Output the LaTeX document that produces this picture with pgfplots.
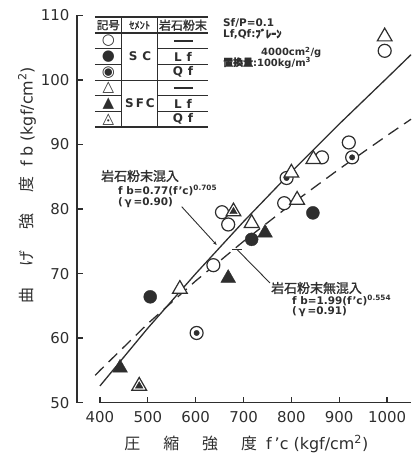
\documentclass[border=0pt]{standalone}
\usepackage{fontspec}
\setmainfont{DejaVu Sans}
\newfontfamily\cjk{Noto Sans CJK JP}
\newfontfamily\cjkb[FakeBold=1.5]{Noto Sans CJK JP}
\usepackage{pgfplots}
\pgfplotsset{compat=1.18}
\usetikzlibrary{arrows.meta}
\definecolor{ink}{gray}{0.18}
\begin{document}
\begin{tikzpicture}
\begin{axis}[
  at={(0,0)}, anchor=south west,
  scale only axis, width=334bp, height=387.4bp,
  xmin=352, xmax=1050, ymin=50, ymax=110,
  axis x line*=bottom, axis y line*=left,
  axis line style={draw=none},
  xtick={400,500,...,1000}, ytick={50,60,...,110},
  tick align=inside, major tick length=6bp,
  tick style={line width=1.3bp, ink},
  /pgf/number format/assume math mode=true,
  /pgf/number format/1000 sep={},
  ticklabel style={font=\fontsize{15}{18}\selectfont, text=ink},
  xticklabel style={yshift=-5bp},
  yticklabel style={xshift=-4bp},
  xlabel={{\cjk 圧\hspace{23bp}縮\hspace{23bp}強\hspace{23bp}度}\hspace{9bp}f\hspace{3bp}'c (kgf/cm\textsuperscript{2})},
  ylabel={{\cjk 曲\hspace{21bp}げ\hspace{21bp}強\hspace{21bp}度}\hspace{10bp}f\hspace{4bp}b (kgf/cm\textsuperscript{2})},
  label style={font=\fontsize{16}{19}\selectfont, text=ink},
  xlabel style={at={(axis description cs:0.507,-0.107)}, anchor=center},
  ylabel style={at={(axis description cs:-0.150,0.562)}, anchor=center},
  clip=false,
]
% axis lines (offset frame)
\draw[line width=1.5bp, ink] (axis cs:352,50) -- (axis cs:352,110);
\draw[line width=1.5bp, ink] (axis cs:400,50) -- (axis cs:1050,50);

% regression: solid (with rock powder) fb=0.77 fc^0.705
\addplot[ink, line width=1.3bp, no marks] coordinates {
 (400,52.6) (500,61.55) (600,69.98) (700,78.04) (800,85.75) (900,93.16) (1000,100.3) (1050,103.9)};
% regression: dashed (without rock powder) fb=1.99 fc^0.554
\addplot[ink, line width=1.3bp, no marks, dash pattern=on 12bp off 7bp] coordinates {
 (390,54.23) (400,55.0) (500,62.25) (600,68.86) (700,74.99) (800,80.75) (900,86.19) (1000,91.38) (1050,93.9)};

% SC, none: open circles
\addplot[only marks, mark=*, mark size=6.5bp, mark options={fill=white, draw=ink, line width=1.2bp}] coordinates {
 (995,104.5) (920,90.3) (864,88) (785,80.9) (655,79.5) (668,77.6) (637,71.3)};
% SC, Qf: circle with dot
\addplot[only marks, mark=*, mark size=6.5bp, mark options={fill=white, draw=ink, line width=1.2bp}] coordinates {
 (927,88) (790,84.8) (602,60.8)};
\addplot[only marks, mark=*, mark size=2.7bp, mark options={fill=ink, draw=ink}] coordinates {
 (927,88) (790,84.8) (602,60.8)};
% SC, Lf: filled circles
\addplot[only marks, mark=*, mark size=6.5bp, mark options={fill=ink, draw=ink}] coordinates {
 (845,79.4) (717,75.3) (505,66.4)};
% SFC, none: open triangles
\addplot[only marks, mark=triangle*, mark size=8.5bp, mark options={fill=white, draw=ink, line width=1.2bp}] coordinates {
 (995,106.7) (846,87.7) (800,85.6) (812,81.4) (717,77.8) (567,67.6)};
% SFC, Qf: triangle with filled inner triangle
\addplot[only marks, mark=triangle*, mark size=8.5bp, mark options={fill=white, draw=ink, line width=1.2bp}] coordinates {
 (679,79.6) (482,52.6)};
\addplot[only marks, mark=triangle*, mark size=4.3bp, mark options={fill=ink, draw=ink}] coordinates {
 (679,79.6) (482,52.6)};
% SFC, Lf: filled triangles
\addplot[only marks, mark=triangle*, mark size=8.5bp, mark options={fill=ink, draw=ink}] coordinates {
 (745,76.3) (668,69.3) (442,55.4)};
\end{axis}

% annotations and legend table in pixel coordinates
\begin{scope}[shift={(-77bp,402.7bp)}, x=1bp, y=-1bp]
 % table rules
 \draw[ink, line width=1.6bp] (95,17.3) -- (208,17.3);
 \draw[ink, line width=1.6bp] (95,127.3) -- (208,127.3);
 \draw[ink, line width=1.1bp] (95,33) -- (208,33);
 \draw[ink, line width=1.1bp] (95,80.2) -- (208,80.2);
 \foreach \yy in {48.7,64.4,95.9,111.6} {
   \draw[ink, line width=1.1bp] (95,\yy) -- (121.7,\yy);
   \draw[ink, line width=1.1bp] (157.7,\yy) -- (208,\yy);
 }
 \draw[ink, line width=1.1bp] (121.7,17.3) -- (121.7,127.3);
 \draw[ink, line width=1.1bp] (157.7,17.3) -- (157.7,127.3);
 % header
 \node[inner sep=0, text=ink, font=\fontsize{11.5}{12}\selectfont] at (108.3,25.2) {\cjkb 記号};
 \node[inner sep=0, text=ink, font=\fontsize{10.5}{12}\selectfont] at (139.7,25.2) {\cjkb ｾﾒﾝﾄ};
 \node[inner sep=0, text=ink, font=\fontsize{12}{12}\selectfont] at (183,25.2) {\cjkb 岩石粉末};
 % symbols
 \node[inner sep=0, text=ink, font=\fontsize{15}{15}\selectfont] at (108.3,40.9) {○};
 \node[inner sep=0, text=ink, font=\fontsize{15}{15}\selectfont] at (108.3,56.5) {●};
 \node[inner sep=0, text=ink, font=\fontsize{15}{15}\selectfont] at (108.3,72.2) {◉};
 \node[inner sep=0, text=ink, font=\fontsize{15}{15}\selectfont] at (108.3,87.9) {△};
 \node[inner sep=0, text=ink, font=\fontsize{15}{15}\selectfont] at (108.3,103.6) {▲};
 \node[inner sep=0, text=ink, font=\fontsize{15}{15}\selectfont] at (108.3,119.3) {◬};
 % cement
 \node[inner sep=0, text=ink, font=\fontsize{12}{12}\selectfont\bfseries] at (140,56.5) {S\hspace{5bp}C};
 \node[inner sep=0, text=ink, font=\fontsize{12}{12}\selectfont\bfseries] at (140,103.6) {S\hspace{2bp}F\hspace{2bp}C};
 % rock powder
 \draw[ink, line width=1.3bp] (174,40.9) -- (193,40.9);
 \draw[ink, line width=1.3bp] (174,87.9) -- (193,87.9);
 \node[inner sep=0, text=ink, font=\fontsize{12}{12}\selectfont\bfseries] at (183,56.5) {L\hspace{5bp}f};
 \node[inner sep=0, text=ink, font=\fontsize{12}{12}\selectfont\bfseries] at (183,72.2) {Q\hspace{5bp}f};
 \node[inner sep=0, text=ink, font=\fontsize{12}{12}\selectfont\bfseries] at (183,103.6) {L\hspace{5bp}f};
 \node[inner sep=0, text=ink, font=\fontsize{12}{12}\selectfont\bfseries] at (183,119.3) {Q\hspace{5bp}f};
 % conditions text
 \node[anchor=west, inner sep=0, text=ink, font=\fontsize{10.5}{12}\selectfont\bfseries] at (223,23.3) {Sf/P=0.1};
 \node[anchor=west, inner sep=0, text=ink, font=\fontsize{10.5}{12}\selectfont\bfseries] at (223,34) {Lf,Qf:{\cjkb ﾌﾞﾚｰﾝ}};
 \node[anchor=west, inner sep=0, text=ink, font=\fontsize{10}{12}\selectfont\bfseries] at (261,52.3) {4000cm\textsuperscript{2}/g};
 \node[anchor=west, inner sep=0, text=ink, font=\fontsize{10}{12}\selectfont\bfseries] at (223,62.7) {{\cjkb 置換量}:100kg/m\textsuperscript{3}};
 % annotation 1
 \node[anchor=west, inner sep=0, text=ink, font=\fontsize{13}{13}\selectfont] at (101,176) {\cjkb 岩石粉末混入};
 \node[anchor=west, inner sep=0, text=ink, font=\fontsize{10.5}{12}\selectfont\bfseries] at (118,190.7) {f b=0.77(f'c)\textsuperscript{0.705}};
 \node[anchor=west, inner sep=0, text=ink, font=\fontsize{10.5}{12}\selectfont\bfseries] at (118,202.7) {(\,γ\,=0.90)};
 \draw[ink, line width=0.9bp, -{Stealth[length=4bp,width=3bp]}] (181.7,206.7) -- (216.7,245);
 % annotation 2
 \node[anchor=west, inner sep=0, text=ink, font=\fontsize{13}{13}\selectfont] at (271,288) {\cjkb 岩石粉末無混入};
 \node[anchor=west, inner sep=0, text=ink, font=\fontsize{10.5}{12}\selectfont\bfseries] at (292,300.7) {f b=1.99(f'c)\textsuperscript{0.554}};
 \node[anchor=west, inner sep=0, text=ink, font=\fontsize{10.5}{12}\selectfont\bfseries] at (292,311.3) {(\,γ\,=0.91)};
 \draw[ink, line width=0.9bp] (270,283) -- (237,249.5);
 \draw[ink, line width=0.9bp] (232,249.5) -- (242,249.5);
\end{scope}
\pgfresetboundingbox
\path[use as bounding box] (-77bp,-56.3bp) rectangle (336bp,402.7bp);
\end{tikzpicture}
\end{document}
